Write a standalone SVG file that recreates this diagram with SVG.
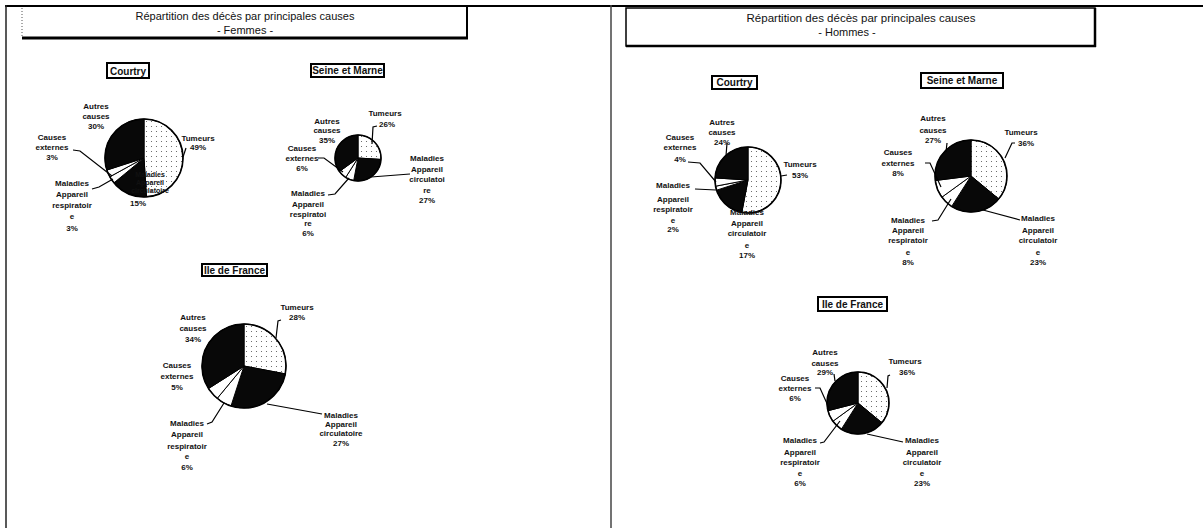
<svg xmlns="http://www.w3.org/2000/svg" width="1203" height="528" viewBox="0 0 1203 528">
<defs>
<pattern id="dots" width="5" height="5" patternUnits="userSpaceOnUse">
<rect width="5" height="5" fill="#fff"/>
<circle cx="1.5" cy="1.5" r="0.55" fill="#555"/>
</pattern>
<style>
text{font-family:"Liberation Sans",Arial,sans-serif;fill:#111}
.t{font-size:8px;font-weight:bold;text-anchor:middle}
.ttl{font-size:11px;text-anchor:middle}
.lbl{font-size:10px;font-weight:bold;text-anchor:middle}
.ld{fill:none;stroke:#000;stroke-width:1.2}
.blk{fill:#080808;stroke:#000;stroke-width:1}
.wht{fill:#fff;stroke:#000;stroke-width:1}
.dot{fill:url(#dots);stroke:#000;stroke-width:1}
.rim{fill:none;stroke:#000;stroke-width:1.6}
.box{fill:#fff;stroke:#000;stroke-width:2}
.ov{font-size:7px;font-weight:bold;text-anchor:middle}
</style>
</defs>
<rect width="1203" height="528" fill="#fff"/>

<g id="frame">
<line x1="5" y1="6" x2="1203" y2="6" stroke="#000" stroke-width="2"/>
<line x1="6" y1="5" x2="6" y2="528" stroke="#222" stroke-width="1.5"/>
<line x1="611" y1="5" x2="611" y2="528" stroke="#444" stroke-width="1.5"/>
</g>

<g id="title-femmes">
<line x1="22" y1="8" x2="22" y2="37" stroke="#555" stroke-width="1" stroke-dasharray="1,2"/>
<line x1="22" y1="38" x2="468" y2="38" stroke="#000" stroke-width="3"/>
<line x1="467" y1="6" x2="467" y2="39" stroke="#000" stroke-width="2"/>
<text class="ttl" x="245" y="20">Répartition des décès par principales causes</text>
<text class="ttl" x="245" y="34">- Femmes -</text>
</g>

<g id="title-hommes">
<rect x="626" y="8" width="469" height="38" fill="none" stroke="#000" stroke-width="1.5"/>
<line x1="626" y1="46" x2="1096" y2="46" stroke="#000" stroke-width="2.5"/>
<line x1="1095" y1="8" x2="1095" y2="47" stroke="#000" stroke-width="2.5"/>
<text class="ttl" x="861" y="22" style="font-size:11.5px">Répartition des décès par principales causes</text>
<text class="ttl" x="847" y="36">- Hommes -</text>
</g>

<!-- Femmes Courtry -->
<g id="f-courtry">
<rect class="box" x="107" y="63" width="42" height="15"/>
<text class="lbl" x="128" y="74.5">Courtry</text>
<path class="dot" d="M144,158 L144,119 A39,39 0 0 1 146.45,196.92 Z"/>
<path class="blk" d="M144,158 L146.45,196.92 A39,39 0 0 1 113.95,182.86 Z"/>
<path class="wht" d="M144,158 L113.95,182.86 A39,39 0 0 1 109.82,176.79 Z"/>
<path class="wht" d="M144,158 L109.82,176.79 A39,39 0 0 1 106.91,170.05 Z"/>
<path class="blk" d="M144,158 L106.91,170.05 A39,39 0 0 1 144,119 Z"/>
<circle class="rim" cx="144" cy="158" r="39"/>
<polyline class="ld" points="186,148 183,157"/>
<polyline class="ld" points="73,150 80,151 112,176"/>
<polyline class="ld" points="92,189 99,187 113,179"/>
<text class="t"><tspan x="96" y="109">Autres</tspan><tspan x="96" y="119">causes</tspan><tspan x="96" y="129">30%</tspan></text>
<text class="t"><tspan x="198" y="141">Tumeurs</tspan><tspan x="198" y="150">49%</tspan></text>
<text class="t"><tspan x="52" y="140">Causes</tspan><tspan x="52" y="150">externes</tspan><tspan x="52" y="160">3%</tspan></text>
<text class="t"><tspan x="72" y="186">Maladies</tspan><tspan x="72" y="197">Appareil</tspan><tspan x="72" y="208">respiratoir</tspan><tspan x="72" y="219">e</tspan><tspan x="72" y="231">3%</tspan></text>
<text class="ov"><tspan x="150" y="177">Maladies</tspan><tspan x="150" y="185">Appareil</tspan><tspan x="150" y="193">circulatoire</tspan></text>
<text class="t" x="138" y="206">15%</text>
</g>

<!-- Femmes Seine et Marne -->
<g id="f-seine-et-marne">
<rect class="box" x="311" y="64" width="73" height="13"/>
<text class="lbl" x="347.5" y="74">Seine et Marne</text>
<path class="dot" d="M358,158 L358,135 A23,23 0 0 1 380.95,159.44 Z"/>
<path class="blk" d="M358,158 L380.95,159.44 A23,23 0 0 1 353.69,180.59 Z"/>
<path class="wht" d="M358,158 L353.69,180.59 A23,23 0 0 1 345.68,177.42 Z"/>
<path class="wht" d="M358,158 L345.68,177.42 A23,23 0 0 1 339.39,171.52 Z"/>
<path class="blk" d="M358,158 L339.39,171.52 A23,23 0 0 1 358,135 Z"/>
<circle class="rim" cx="358" cy="158" r="23"/>
<polyline class="ld" points="377,126 373,127 372,144"/>
<polyline class="ld" points="318,158 324,158 343,172"/>
<polyline class="ld" points="328,195 335,194 349,178"/>
<polyline class="ld" points="371,177 410,174"/>
<text class="t"><tspan x="385" y="116">Tumeurs</tspan><tspan x="387" y="127">26%</tspan></text>
<text class="t"><tspan x="327" y="124">Autres</tspan><tspan x="327" y="133">causes</tspan><tspan x="327" y="143">35%</tspan></text>
<text class="t"><tspan x="302" y="151">Causes</tspan><tspan x="302" y="161">externes</tspan><tspan x="302" y="171">6%</tspan></text>
<text class="t"><tspan x="308" y="196">Maladies</tspan><tspan x="308" y="207">Appareil</tspan><tspan x="308" y="217">respiratoi</tspan><tspan x="308" y="226">re</tspan><tspan x="308" y="236">6%</tspan></text>
<text class="t"><tspan x="427" y="161">Maladies</tspan><tspan x="427" y="172">Appareil</tspan><tspan x="427" y="182">circulatoi</tspan><tspan x="427" y="193">re</tspan><tspan x="427" y="203">27%</tspan></text>
</g>

<!-- Femmes Ile de France -->
<g id="f-ile-de-france">
<rect class="box" x="202" y="264" width="65" height="12"/>
<text class="lbl" x="234.5" y="273.5">Ile de France</text>
<path class="dot" d="M244,366 L244,324 A42,42 0 0 1 285.26,373.87 Z"/>
<path class="blk" d="M244,366 L285.26,373.87 A42,42 0 0 1 231.02,405.95 Z"/>
<path class="wht" d="M244,366 L231.02,405.95 A42,42 0 0 1 217.23,398.36 Z"/>
<path class="wht" d="M244,366 L217.23,398.36 A42,42 0 0 1 208.54,388.5 Z"/>
<path class="blk" d="M244,366 L208.54,388.5 A42,42 0 0 1 244,324 Z"/>
<circle class="rim" cx="244" cy="366" r="42"/>
<polyline class="ld" points="281,320 278,321 276,338"/>
<polyline class="ld" points="267,404 322,414"/>
<polyline class="ld" points="207,424 212,422 224,403"/>
<text class="t"><tspan x="297" y="310">Tumeurs</tspan><tspan x="297" y="320">28%</tspan></text>
<text class="t"><tspan x="193" y="320">Autres</tspan><tspan x="193" y="331">causes</tspan><tspan x="193" y="342">34%</tspan></text>
<text class="t"><tspan x="177" y="368">Causes</tspan><tspan x="177" y="379">externes</tspan><tspan x="177" y="390">5%</tspan></text>
<text class="t"><tspan x="187" y="426">Maladies</tspan><tspan x="187" y="437">Appareil</tspan><tspan x="187" y="449">respiratoir</tspan><tspan x="187" y="459">e</tspan><tspan x="187" y="470">6%</tspan></text>
<text class="t"><tspan x="341" y="418">Maladies</tspan><tspan x="341" y="427">Appareil</tspan><tspan x="341" y="436">circulatoire</tspan><tspan x="341" y="446">27%</tspan></text>
</g>

<!-- Hommes Courtry -->
<g id="h-courtry">
<rect class="box" x="712" y="76" width="45" height="13"/>
<text class="lbl" x="734.5" y="86">Courtry</text>
<path class="dot" d="M748,180 L748,147 A33,33 0 1 1 741.82,212.42 Z"/>
<path class="blk" d="M748,180 L741.82,212.42 A33,33 0 0 1 716.61,190.2 Z"/>
<path class="wht" d="M748,180 L716.61,190.2 A33,33 0 0 1 715.58,186.18 Z"/>
<path class="wht" d="M748,180 L715.58,186.18 A33,33 0 0 1 715.07,177.93 Z"/>
<path class="blk" d="M748,180 L715.07,177.93 A33,33 0 0 1 748,147 Z"/>
<circle class="rim" cx="748" cy="180" r="33"/>
<polyline class="ld" points="727,143 726,156"/>
<polyline class="ld" points="781,176 787,175"/>
<polyline class="ld" points="688,162 700,163 716,182"/>
<polyline class="ld" points="695,189 716,190"/>
<text class="t"><tspan x="722" y="125">Autres</tspan><tspan x="722" y="135">causes</tspan><tspan x="722" y="145">24%</tspan></text>
<text class="t"><tspan x="680" y="140">Causes</tspan><tspan x="680" y="150">externes</tspan><tspan x="680" y="162">4%</tspan></text>
<text class="t"><tspan x="800" y="167">Tumeurs</tspan><tspan x="800" y="178">53%</tspan></text>
<text class="t"><tspan x="673" y="188">Maladies</tspan><tspan x="673" y="202">Appareil</tspan><tspan x="673" y="212">respiratoir</tspan><tspan x="673" y="223">e</tspan><tspan x="673" y="232">2%</tspan></text>
<text class="t"><tspan x="747" y="215">Maladies</tspan><tspan x="747" y="226">Appareil</tspan><tspan x="747" y="236">circulatoir</tspan><tspan x="747" y="248">e</tspan><tspan x="747" y="258">17%</tspan></text>
</g>

<!-- Hommes Seine et Marne -->
<g id="h-seine-et-marne">
<rect class="box" x="921" y="73" width="82" height="15"/>
<text class="lbl" x="962" y="84">Seine et Marne</text>
<path class="dot" d="M971,176 L971,140 A36,36 0 0 1 998.74,198.95 Z"/>
<path class="blk" d="M971,176 L998.74,198.95 A36,36 0 0 1 951.71,206.39 Z"/>
<path class="wht" d="M971,176 L951.71,206.39 A36,36 0 0 1 941.88,197.16 Z"/>
<path class="wht" d="M971,176 L941.88,197.16 A36,36 0 0 1 935.28,180.51 Z"/>
<path class="blk" d="M971,176 L935.28,180.51 A36,36 0 0 1 971,140 Z"/>
<circle class="rim" cx="971" cy="176" r="36"/>
<polyline class="ld" points="947,143 946,152"/>
<polyline class="ld" points="1015,143 1012,143 1005,158"/>
<polyline class="ld" points="925,163 930,163 941,187"/>
<polyline class="ld" points="932,221 938,220 951,199"/>
<polyline class="ld" points="983,210 1020,220"/>
<text class="t"><tspan x="933" y="121">Autres</tspan><tspan x="933" y="133">causes</tspan><tspan x="933" y="143">27%</tspan></text>
<text class="t"><tspan x="1021" y="135">Tumeurs</tspan><tspan x="1026" y="146">36%</tspan></text>
<text class="t"><tspan x="898" y="155">Causes</tspan><tspan x="898" y="166">externes</tspan><tspan x="898" y="176">8%</tspan></text>
<text class="t"><tspan x="908" y="223">Maladies</tspan><tspan x="908" y="233">Appareil</tspan><tspan x="908" y="243">respiratoir</tspan><tspan x="908" y="255">e</tspan><tspan x="908" y="265">8%</tspan></text>
<text class="t"><tspan x="1038" y="221">Maladies</tspan><tspan x="1038" y="233">Appareil</tspan><tspan x="1038" y="243">circulatoir</tspan><tspan x="1038" y="255">e</tspan><tspan x="1038" y="265">23%</tspan></text>
</g>

<!-- Hommes Ile de France -->
<g id="h-ile-de-france">
<rect class="box" x="818" y="297" width="69" height="14"/>
<text class="lbl" x="852.5" y="307.5">Ile de France</text>
<path class="dot" d="M858,403 L858,372 A31,31 0 0 1 881.89,422.76 Z"/>
<path class="blk" d="M858,403 L881.89,422.76 A31,31 0 0 1 841.39,429.17 Z"/>
<path class="wht" d="M858,403 L841.39,429.17 A31,31 0 0 1 832.92,421.22 Z"/>
<path class="wht" d="M858,403 L832.92,421.22 A31,31 0 0 1 827.97,410.71 Z"/>
<path class="blk" d="M858,403 L827.97,410.71 A31,31 0 0 1 858,372 Z"/>
<circle class="rim" cx="858" cy="403" r="31"/>
<polyline class="ld" points="834,374 835,381"/>
<polyline class="ld" points="890,375 888,376 887,388"/>
<polyline class="ld" points="815,388 820,388 829,408"/>
<polyline class="ld" points="820,443 824,442 840,421"/>
<polyline class="ld" points="867,434 903,442"/>
<text class="t"><tspan x="825" y="355">Autres</tspan><tspan x="825" y="366">causes</tspan><tspan x="825" y="375">29%</tspan></text>
<text class="t"><tspan x="905" y="364">Tumeurs</tspan><tspan x="907" y="375">36%</tspan></text>
<text class="t"><tspan x="795" y="381">Causes</tspan><tspan x="795" y="391">externes</tspan><tspan x="795" y="401">6%</tspan></text>
<text class="t"><tspan x="800" y="443">Maladies</tspan><tspan x="800" y="455">Appareil</tspan><tspan x="800" y="465">respiratoir</tspan><tspan x="800" y="476">e</tspan><tspan x="800" y="486">6%</tspan></text>
<text class="t"><tspan x="922" y="443">Maladies</tspan><tspan x="922" y="455">Appareil</tspan><tspan x="922" y="465">circulatoir</tspan><tspan x="922" y="476">e</tspan><tspan x="922" y="486">23%</tspan></text>
</g>
</svg>
